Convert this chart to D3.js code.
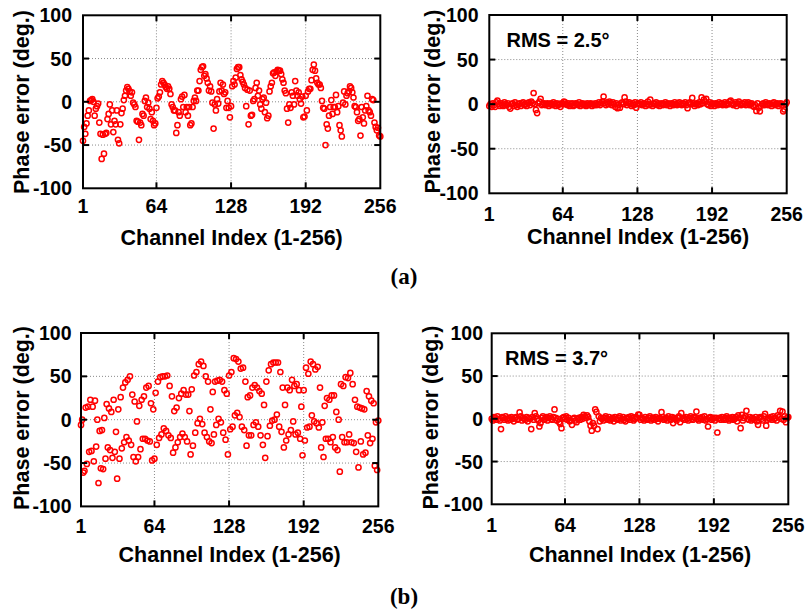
<!DOCTYPE html>
<html>
<head>
<meta charset="utf-8">
<script src="https://cdn.jsdelivr.net/npm/d3@7/dist/d3.min.js"></script>
<style>
  html, body { margin: 0; padding: 0; background: #fff; }
  svg { display: block; }
  text { font-family: "Liberation Sans", Arial, sans-serif; font-weight: bold; fill: #000; }
</style>
</head>
<body>
<svg id="chart" width="807" height="609"></svg>
<script>
// ---------------- DATA ----------------
const xTickValues = [1, 64, 128, 192, 256];
const yTickValues = [-100, -50, 0, 50, 100];
const gridX = [64, 128, 192];
const gridY = [-50, 0, 50];
const xTitle = "Channel Index (1-256)";
const yTitle = "Phase error (deg.)";
const rmsLabels = ["RMS = 2.5°", "RMS = 3.7°"];
const captions = ["(a)", "(b)"];

// (a) before calibration
const phaseA_before = [
 -45,-29,-37,-25,-16,-10,1,2,3,0,-16,-8,-5,-2,-24,-37,
 -66,-38,-60,-37,-36,-20,-14,-3,-26,-10,-35,-22,-26,-10,-44,-48,
 -26,-13,-8,2,7,13,17,15,12,7,11,-1,-3,-6,-22,-23,
 -44,-24,-27,-14,-16,1,5,-6,-1,-8,-20,-12,-22,-27,-25,-7,
 4,6,11,20,24,22,20,17,15,18,15,9,-3,-6,-10,-10,
 -36,-27,-12,-16,3,6,-6,8,-12,-6,-16,-6,-27,-25,-6,1,
 5,1,13,13,24,37,40,41,30,32,27,22,13,18,12,-1,
 -31,-3,-10,3,-2,12,22,13,20,9,11,-7,1,-7,-18,-5,
 18,24,20,28,38,40,40,31,26,23,20,16,-5,14,-26,13,
 -16,-15,1,3,16,22,7,13,-3,-8,3,5,-12,-1,-19,-16,
 12,18,22,33,34,30,35,37,36,36,32,26,22,13,10,-8,
 -24,-3,-7,11,7,-3,24,13,7,11,3,-2,6,-18,-17,7,
 -10,12,15,15,25,37,43,36,27,22,20,20,16,1,-7,-8,
 -50,-26,-31,-16,-6,2,-14,-6,-6,8,-12,-5,-27,-33,-40,-1,
 12,-3,7,10,12,18,16,11,5,-5,-6,-12,-22,-20,-39,-6,
 -18,-25,-10,-5,7,-10,-12,-16,3,2,-24,-29,-33,-30,-39,-40
];

// (a) after calibration
const phaseA_after = [
 -2,0,-3,1,-1,-3,2,4,0,-2,1,-1,-2,2,0,-1,
 1,-3,-5,0,1,-2,2,-1,-3,0,1,-2,1,2,-1,0,
 -2,1,2,-1,3,1,12.5,0,-6.5,-10,1,3,6,-1,0,1,
 -1,0,1,-2,0,1,-1,2,0,-2,1,-1,0,-3,1,0,
 3,2,0,-1,1,-2,0,1,-2,-1,1,0,-1,2,-2,0,
 1,-1,0,-2,1,-1,0,1,-2,0,-1,1,-1,0,2,-1,
 1,3,8.6,1,-1,2,0,3,1,-1,2,0,-3,1,-4.5,-1,
 -4,1,2,0,7.5,3,-1,1,2,0,-2,1,-1,2,-4,0,
 1,0,2,-1,0,1,-2,0,3,-1,5,0,-2,1,0,2,
 -1,1,-2,0,1,-1,0,2,-1,1,0,-2,1,0,-1,2,
 0,-1,1,2,0,-1,1,0,2,-1,-4.5,1,2,0,7,1,
 -2,0,1,-1,2,0,7.5,1,5,3,6,0,-1,2,-2,1,
 0,-2,1,0,-1,2,0,1,-1,0,2,-1,1,0,3,4,
 1,-1,0,2,-2,1,3,0,-1,1,0,2,-1,1,2,-1,
 0,1,-2,-3,-1,-7.6,1,-4,-8,-2,0,1,-1,2,0,-1,
 1,0,-2,1,2,-1,0,1,-2,0,1,-1,-8,-6,0,2
];

// (b) before calibration
const phaseB_before = [
 -6,0,-61,-59,14,-51,15,-37,23,-36,15,-48,22,-31,0,-73,
 -13,-56,-12,-57,2,-45,18,-32,13,-35,9,-44,23,-37,-14,-68,
 12,-45,26,-33,37,-26,43,-20,46,-24,50,-29,29,-43,21,-48,
 -2,-43,16,-34,23,-22,27,-22,37,-24,39,-25,19,-47,12,-45,
 31,-29,44,-21,49,-17,50,-10,50,-13,51,-18,39,-21,27,-38,
 10,-32,14,-26,25,-20,30,-16,34,-20,29,-25,29,10,-40,35,
 -30,51,-15,55,-4,64,1,67,-5,62,-15,50,-20,44,-25,12,
 -27,32,-17,44,-6,45,1,46,-3,44,-15,34,-23,30,-40,51,
 -11,55,-8,71,5,70,8,67,3,59,-8,60,-12,44,-30,26,
 -18,28,-18,37,-6,40,-3,37,-8,33,-18,30,-29,17,-44,44,
 -19,57,-7,64,-1,66,0,66,6,66,-8,55,-14,37,-32,17,
 -24,37,-17,34,-12,46,-2,39,-17,41,-15,34,-22,15,-41,34,
 -24,60,-9,53,-8,67,5,64,-2,58,-4,61,-9,37,-32,-3,
 -43,16,-22,25,-22,23,-26,28,-20,28,-32,9,-35,0,-60,41,
 -20,39,-26,49,-26,48,-17,54,-26,41,-27,23,-37,15,-55,14,
 -25,13,-40,12,-38,33,-18,27,-27,22,-22,19,-53,-3,-58,-1
];

// (b) after calibration
const phaseB_after = [
 0,-2,2,1,-1,3,0,-2,-12,2,1,-1,3,0,-2,1,
 -1,2,0,-3,1,2,-1,0,7.4,3,-2,1,0,-1,2,-3,
 1,0,-12,2,-1,6.6,3,0,-2,-9,-5,1,3,-1,0,2,
 -2,1,3,0,-1,2,11,1,-2,0,-4,-6,-11,1,2,0,
 3,-1,1,-3,-2,-7,0,1,-2,-4,0,1,-1,2,0,4.6,
 3,1,4,2,-3,-8,-14,-5,-8,11,8,-12,3,-3,1,0,
 -2,1,3,0,-1,2,-2,0,1,-3,2,0,-1,1,3,-2,
 0,2,-1,-3,1,0,2,-1,3,1,-2,0,2,1,5,4.6,
 -1,1,0,-2,2,0,-1,1,3,-2,0,1,-1,2,0,-3,
 1,0,7.8,2,-1,0,1,-2,3,0,-1,2,-5,1,0,-2,
 1,3,-4,6.6,0,1,-1,2,0,-2,1,3,0,-1,2,1,
 8.5,0,-2,1,0,2,-1,3,-2,0,-9,1,2,-1,0,1,
 -2,1,-16,0,1,-1,2,0,-1,1,3,0,-2,1,0,2,
 -1,0,2,-3,4,1,-11,4.6,-2,1,3,9.3,0,-1,2,-2,
 1,0,-1,2,-3,-7,1,2,0,-2,3,5.8,-8,-1,1,0,
 2,-1,3,0,1,-2,4,2,9.3,0,8.5,-1,3,-4,1,2
];

// ---------------- LAYOUT ----------------
const panels = [
  { values: phaseA_before, left: 83, right: 380.3, top: 15.3, bottom: 188.3,
    yLabRight: 72, xLabBase: 213, xTitleBase: 245, yTitleX: 21.7, yTitleY: 102, rms: null },
  { values: phaseA_after, left: 489.3, right: 786.7, top: 15, bottom: 193.3,
    yLabRight: 478.5, xLabBase: 221, xTitleBase: 243.5, yTitleX: 433, yTitleY: 101.5,
    rms: rmsLabels[0], rmsX: 506.5, rmsBase: 47 },
  { values: phaseB_before, left: 81, right: 378.3, top: 333, bottom: 506.4,
    yLabRight: 71.5, xLabBase: 533, xTitleBase: 562, yTitleX: 22, yTitleY: 418, rms: null },
  { values: phaseB_after, left: 491.7, right: 788.3, top: 333.3, bottom: 504.3,
    yLabRight: 483, xLabBase: 531.5, xTitleBase: 562, yTitleX: 431, yTitleY: 417.5,
    rms: rmsLabels[1], rmsX: 505, rmsBase: 364.5 }
];

const svg = d3.select("#chart");
const tickLen = 6;

panels.forEach(p => {
  const x = d3.scaleLinear().domain([1, 256]).range([p.left, p.right]);
  const y = d3.scaleLinear().domain([-100, 100]).range([p.bottom, p.top]);
  const g = svg.append("g");

  // grid
  g.selectAll(".gx").data(gridX).enter().append("line")
    .attr("x1", d => x(d)).attr("x2", d => x(d))
    .attr("y1", p.top).attr("y2", p.bottom)
    .attr("stroke", "#8a8a8a").attr("stroke-width", 1).attr("stroke-dasharray", "1,2");
  g.selectAll(".gy").data(gridY).enter().append("line")
    .attr("y1", d => y(d)).attr("y2", d => y(d))
    .attr("x1", p.left).attr("x2", p.right)
    .attr("stroke", "#8a8a8a").attr("stroke-width", 1).attr("stroke-dasharray", "1,2");

  // points
  const pts = p.values.map((v, i) => ({ ch: i + 1, v }));
  g.selectAll("circle").data(pts).enter().append("circle")
    .attr("cx", d => x(d.ch)).attr("cy", d => y(d.v))
    .attr("r", 2.6).attr("fill", "none")
    .attr("stroke", "#ff0000").attr("stroke-width", 1.5);

  // inward ticks on all sides
  const innerX = xTickValues.filter(t => t !== 1 && t !== 256);
  const innerY = yTickValues.filter(t => t !== -100 && t !== 100);
  innerX.forEach(t => {
    g.append("line").attr("x1", x(t)).attr("x2", x(t))
      .attr("y1", p.bottom).attr("y2", p.bottom - tickLen)
      .attr("stroke", "#000").attr("stroke-width", 2);
    g.append("line").attr("x1", x(t)).attr("x2", x(t))
      .attr("y1", p.top).attr("y2", p.top + tickLen)
      .attr("stroke", "#000").attr("stroke-width", 2);
  });
  innerY.forEach(t => {
    g.append("line").attr("y1", y(t)).attr("y2", y(t))
      .attr("x1", p.left).attr("x2", p.left + tickLen)
      .attr("stroke", "#000").attr("stroke-width", 2);
    g.append("line").attr("y1", y(t)).attr("y2", y(t))
      .attr("x1", p.right).attr("x2", p.right - tickLen)
      .attr("stroke", "#000").attr("stroke-width", 2);
  });

  // frame
  g.append("rect").attr("x", p.left).attr("y", p.top)
    .attr("width", p.right - p.left).attr("height", p.bottom - p.top)
    .attr("fill", "none").attr("stroke", "#000").attr("stroke-width", 2);

  // tick labels
  g.selectAll(".xl").data(xTickValues).enter().append("text")
    .attr("x", d => x(d)).attr("y", p.xLabBase)
    .attr("text-anchor", "middle").style("font-size", "19.5px")
    .text(d => d);
  g.selectAll(".yl").data(yTickValues).enter().append("text")
    .attr("x", p.yLabRight).attr("y", d => y(d))
    .attr("text-anchor", "end").attr("dominant-baseline", "central")
    .style("font-size", "19.5px")
    .text(d => d);

  // axis titles
  g.append("text").attr("x", (p.left + p.right) / 2).attr("y", p.xTitleBase)
    .attr("text-anchor", "middle").style("font-size", "21.5px").text(xTitle);
  g.append("text")
    .attr("transform", `translate(${p.yTitleX},${p.yTitleY}) rotate(-90)`)
    .attr("text-anchor", "middle").attr("dominant-baseline", "central")
    .style("font-size", "21.5px").text(yTitle);

  if (p.rms) {
    g.append("text").attr("x", p.rmsX).attr("y", p.rmsBase)
      .style("font-size", "20px").text(p.rms);
  }
});

// captions
svg.append("text").attr("x", 404).attr("y", 284).attr("text-anchor", "middle")
  .style("font-family", "'Liberation Serif', 'Times New Roman', serif")
  .style("font-size", "23px").text(captions[0]);
svg.append("text").attr("x", 404).attr("y", 604).attr("text-anchor", "middle")
  .style("font-family", "'Liberation Serif', 'Times New Roman', serif")
  .style("font-size", "23px").text(captions[1]);
</script>
</body>
</html>
